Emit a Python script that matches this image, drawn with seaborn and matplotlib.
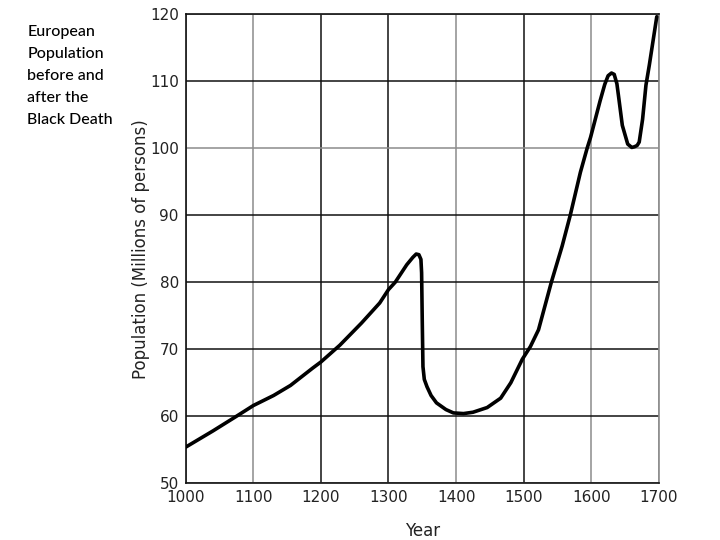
import pandas as pd
import matplotlib
matplotlib.use("Agg")
import matplotlib.pyplot as plt
import seaborn as sns

# values
years = [1000, 1040, 1075, 1100, 1130, 1155, 1188, 1200, 1228, 1260, 1287, 1300, 1310,
         1327, 1336, 1341, 1345, 1348, 1349, 1350, 1351, 1353, 1357, 1363, 1371,
         1385, 1396, 1411, 1425, 1446, 1466, 1481, 1498, 1510, 1522, 1541, 1557,
         1569, 1584, 1594, 1599, 1613, 1620, 1625, 1630, 1634, 1638, 1641, 1646, 1654, 1660, 1664,
         1668, 1671, 1676, 1681, 1686, 1697]
population = [55.4, 57.8, 60.0, 61.6, 63.1, 64.6, 67.2, 68.1, 70.6, 73.9, 76.9, 78.9, 80.0,
              82.6, 83.7, 84.2, 84.1, 83.4, 81.4, 74.0, 67.4, 65.5, 64.4, 63.1, 62.0,
              61.0, 60.5, 60.4, 60.6, 61.3, 62.7, 65.0, 68.5, 70.4, 72.9, 80.0, 85.4,
              90.0, 96.4, 100.0, 101.6, 107.0, 109.5, 110.8, 111.2, 111.0, 109.6, 107.3, 103.4, 100.6, 100.1, 100.2,
              100.4, 100.9, 104.3, 109.4, 112.4, 119.6]
xticks = [1000, 1100, 1200, 1300, 1400, 1500, 1600, 1700]
yticks = [50, 60, 70, 80, 90, 100, 110, 120]
title_lines = ["European", "Population", "before and", "after the", "Black Death"]

df = pd.DataFrame({"Year": years, "Population": population})

sns.set_style("white")
plt.rcParams['font.family'] = ['DejaVu Sans']

fig = plt.figure(figsize=(7.2, 5.4), dpi=100)
ax = fig.add_axes([0.258, 0.105, 0.657, 0.869])

sns.lineplot(data=df, x="Year", y="Population", sort=False, estimator=None,
             color="black", linewidth=2.6, ax=ax, zorder=3)

ax.set_xlim(1000, 1700)
ax.set_ylim(50, 120)
ax.set_xticks(xticks)
ax.set_yticks(yticks)
ax.tick_params(axis="both", length=0, labelsize=11, pad=5, colors="#222222")
ax.grid(True, linewidth=1.1)

# some grid lines are printed darker than others
dark_x = [1200, 1300, 1500]
for line, v in zip(ax.get_xgridlines(), xticks):
    line.set_color("#111111" if v in dark_x else "#8c8c8c")
dark_y = [60, 70, 80, 90, 110]
for line, v in zip(ax.get_ygridlines(), yticks):
    line.set_color("#111111" if v in dark_y else "#8c8c8c")

for side in ["left", "top", "bottom"]:
    ax.spines[side].set_color("#111111")
    ax.spines[side].set_linewidth(1.2)
ax.spines["right"].set_color("#8c8c8c")
ax.spines["right"].set_linewidth(1.2)

ax.set_xlabel("Year", fontsize=12, labelpad=12, color="#222222")
ax.set_ylabel("Population (Millions of persons)", fontsize=12, labelpad=0, color="#222222")

fig.text(0.038, 0.953, "\n".join(title_lines), ha="left", va="top",
         fontsize=11.5, family=["Lato", "DejaVu Sans"], linespacing=1.72,
         color="black", fontweight="medium")

fig.savefig("out.png", dpi=100)
